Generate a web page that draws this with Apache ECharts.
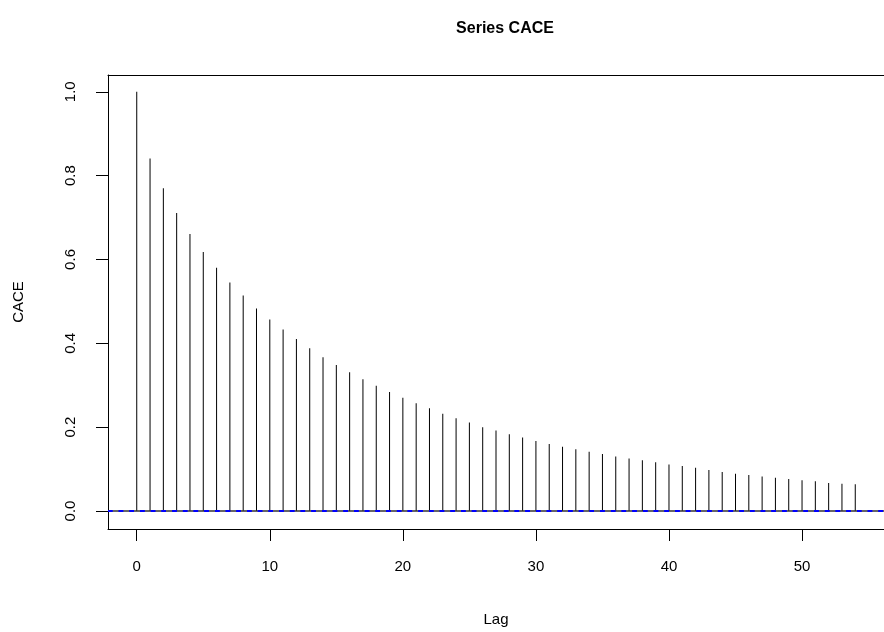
<!DOCTYPE html>
<html>
<head>
	<meta charset="utf-8">
	<script src="https://cdn.jsdelivr.net/npm/echarts@6/dist/echarts.min.js"></script>
	<style>
		html, body { margin: 0; padding: 0; background: #fff; }
		#charts { width: 884px; height: 632px; }
	</style>
</head>
<body>
	<div id="charts"></div>
	<script>
		// lag categories
		const lags = [0, 1, 2, 3, 4, 5, 6, 7, 8, 9, 10, 11, 12, 13, 14, 15, 16, 17, 18, 19,
			20, 21, 22, 23, 24, 25, 26, 27, 28, 29, 30, 31, 32, 33, 34, 35, 36, 37, 38, 39,
			40, 41, 42, 43, 44, 45, 46, 47, 48, 49, 50, 51, 52, 53, 54];
		// autocorrelation values
		const acfValues = [1.000, 0.841, 0.770, 0.711, 0.661, 0.618, 0.580, 0.545, 0.514, 0.483,
			0.457, 0.433, 0.410, 0.388, 0.367, 0.348, 0.331, 0.314, 0.299, 0.284,
			0.270, 0.257, 0.245, 0.232, 0.221, 0.211, 0.200, 0.192, 0.183, 0.175,
			0.167, 0.160, 0.153, 0.147, 0.141, 0.136, 0.130, 0.125, 0.121, 0.116,
			0.111, 0.107, 0.103, 0.098, 0.093, 0.089, 0.086, 0.082, 0.079, 0.076,
			0.073, 0.071, 0.067, 0.065, 0.064];
		const xTicks = [0, 10, 20, 30, 40, 50];
		const yTicks = [0, 0.2, 0.4, 0.6, 0.8, 1.0];
		// confidence bound (very small, sits on zero)
		const ciBound = 0.001;

		const font = "'Liberation Sans', Arial, sans-serif";
		const xMin = -2.16;
		const xMax = 56.16;
		const frame = { show: true, onZero: false, lineStyle: { color: "#000", width: 1 } };

		const myecharts = echarts.init(document.getElementById("charts"));
		myecharts.setOption({
			animation: false,
			backgroundColor: "#fff",
			title: {
				text: "Series CACE",
				left: 500,
				textAlign: "center",
				top: 16,
				textStyle: { fontFamily: font, fontSize: 16, fontWeight: "bold", color: "#000" },
			},
			grid: {
				left: 108,
				width: 784,
				top: 75,
				bottom: 103,
				show: false,
			},
			xAxis: [
				{
					type: "value",
					position: "bottom",
					min: xMin,
					max: xMax,
					name: "Lag",
					nameLocation: "middle",
					nameGap: 83,
					nameTextStyle: { fontFamily: font, fontSize: 15, color: "#000", verticalAlign: "top" },
					axisLine: frame,
					splitLine: { show: false },
					axisTick: { show: true, length: 12, customValues: xTicks, lineStyle: { color: "#000" } },
					axisLabel: {
						customValues: xTicks,
						margin: 30,
						fontFamily: font,
						fontSize: 15,
						color: "#000",
					},
				},
				{
					// top edge of the box
					type: "value",
					position: "top",
					min: xMin,
					max: xMax,
					axisLine: frame,
					axisTick: { show: false },
					axisLabel: { show: false },
					splitLine: { show: false },
				},
			],
			yAxis: {
				type: "value",
				min: -0.043,
				max: 1.04,
				name: "CACE",
				nameLocation: "middle",
				nameRotate: 90,
				nameGap: 82,
				nameTextStyle: { fontFamily: font, fontSize: 15, color: "#000" },
				axisLine: frame,
				splitLine: { show: false },
				axisTick: { show: true, length: 12, customValues: yTicks, lineStyle: { color: "#000" } },
				axisLabel: {
					customValues: yTicks,
					rotate: 90,
					margin: 30,
					fontFamily: font,
					fontSize: 15,
					color: "#000",
					formatter: (v) => v.toFixed(1),
				},
			},
			series: [
				{
					type: "bar",
					barWidth: 1,
					itemStyle: { color: "#000" },
					data: lags.map((lag, i) => [lag, acfValues[i]]),
					markLine: {
						silent: true,
						symbol: "none",
						label: { show: false },
						data: [
							{ yAxis: 0, lineStyle: { color: "#333", width: 1.5, type: "solid" } },
							{ yAxis: ciBound, lineStyle: { color: "#0000ff", width: 2, type: [4.5, 6.2] } },
							{ yAxis: -ciBound, lineStyle: { color: "#0000ff", width: 2, type: [4.5, 6.2] } },
						],
					},
				},
			],
		});
	</script>
</body>
</html>
